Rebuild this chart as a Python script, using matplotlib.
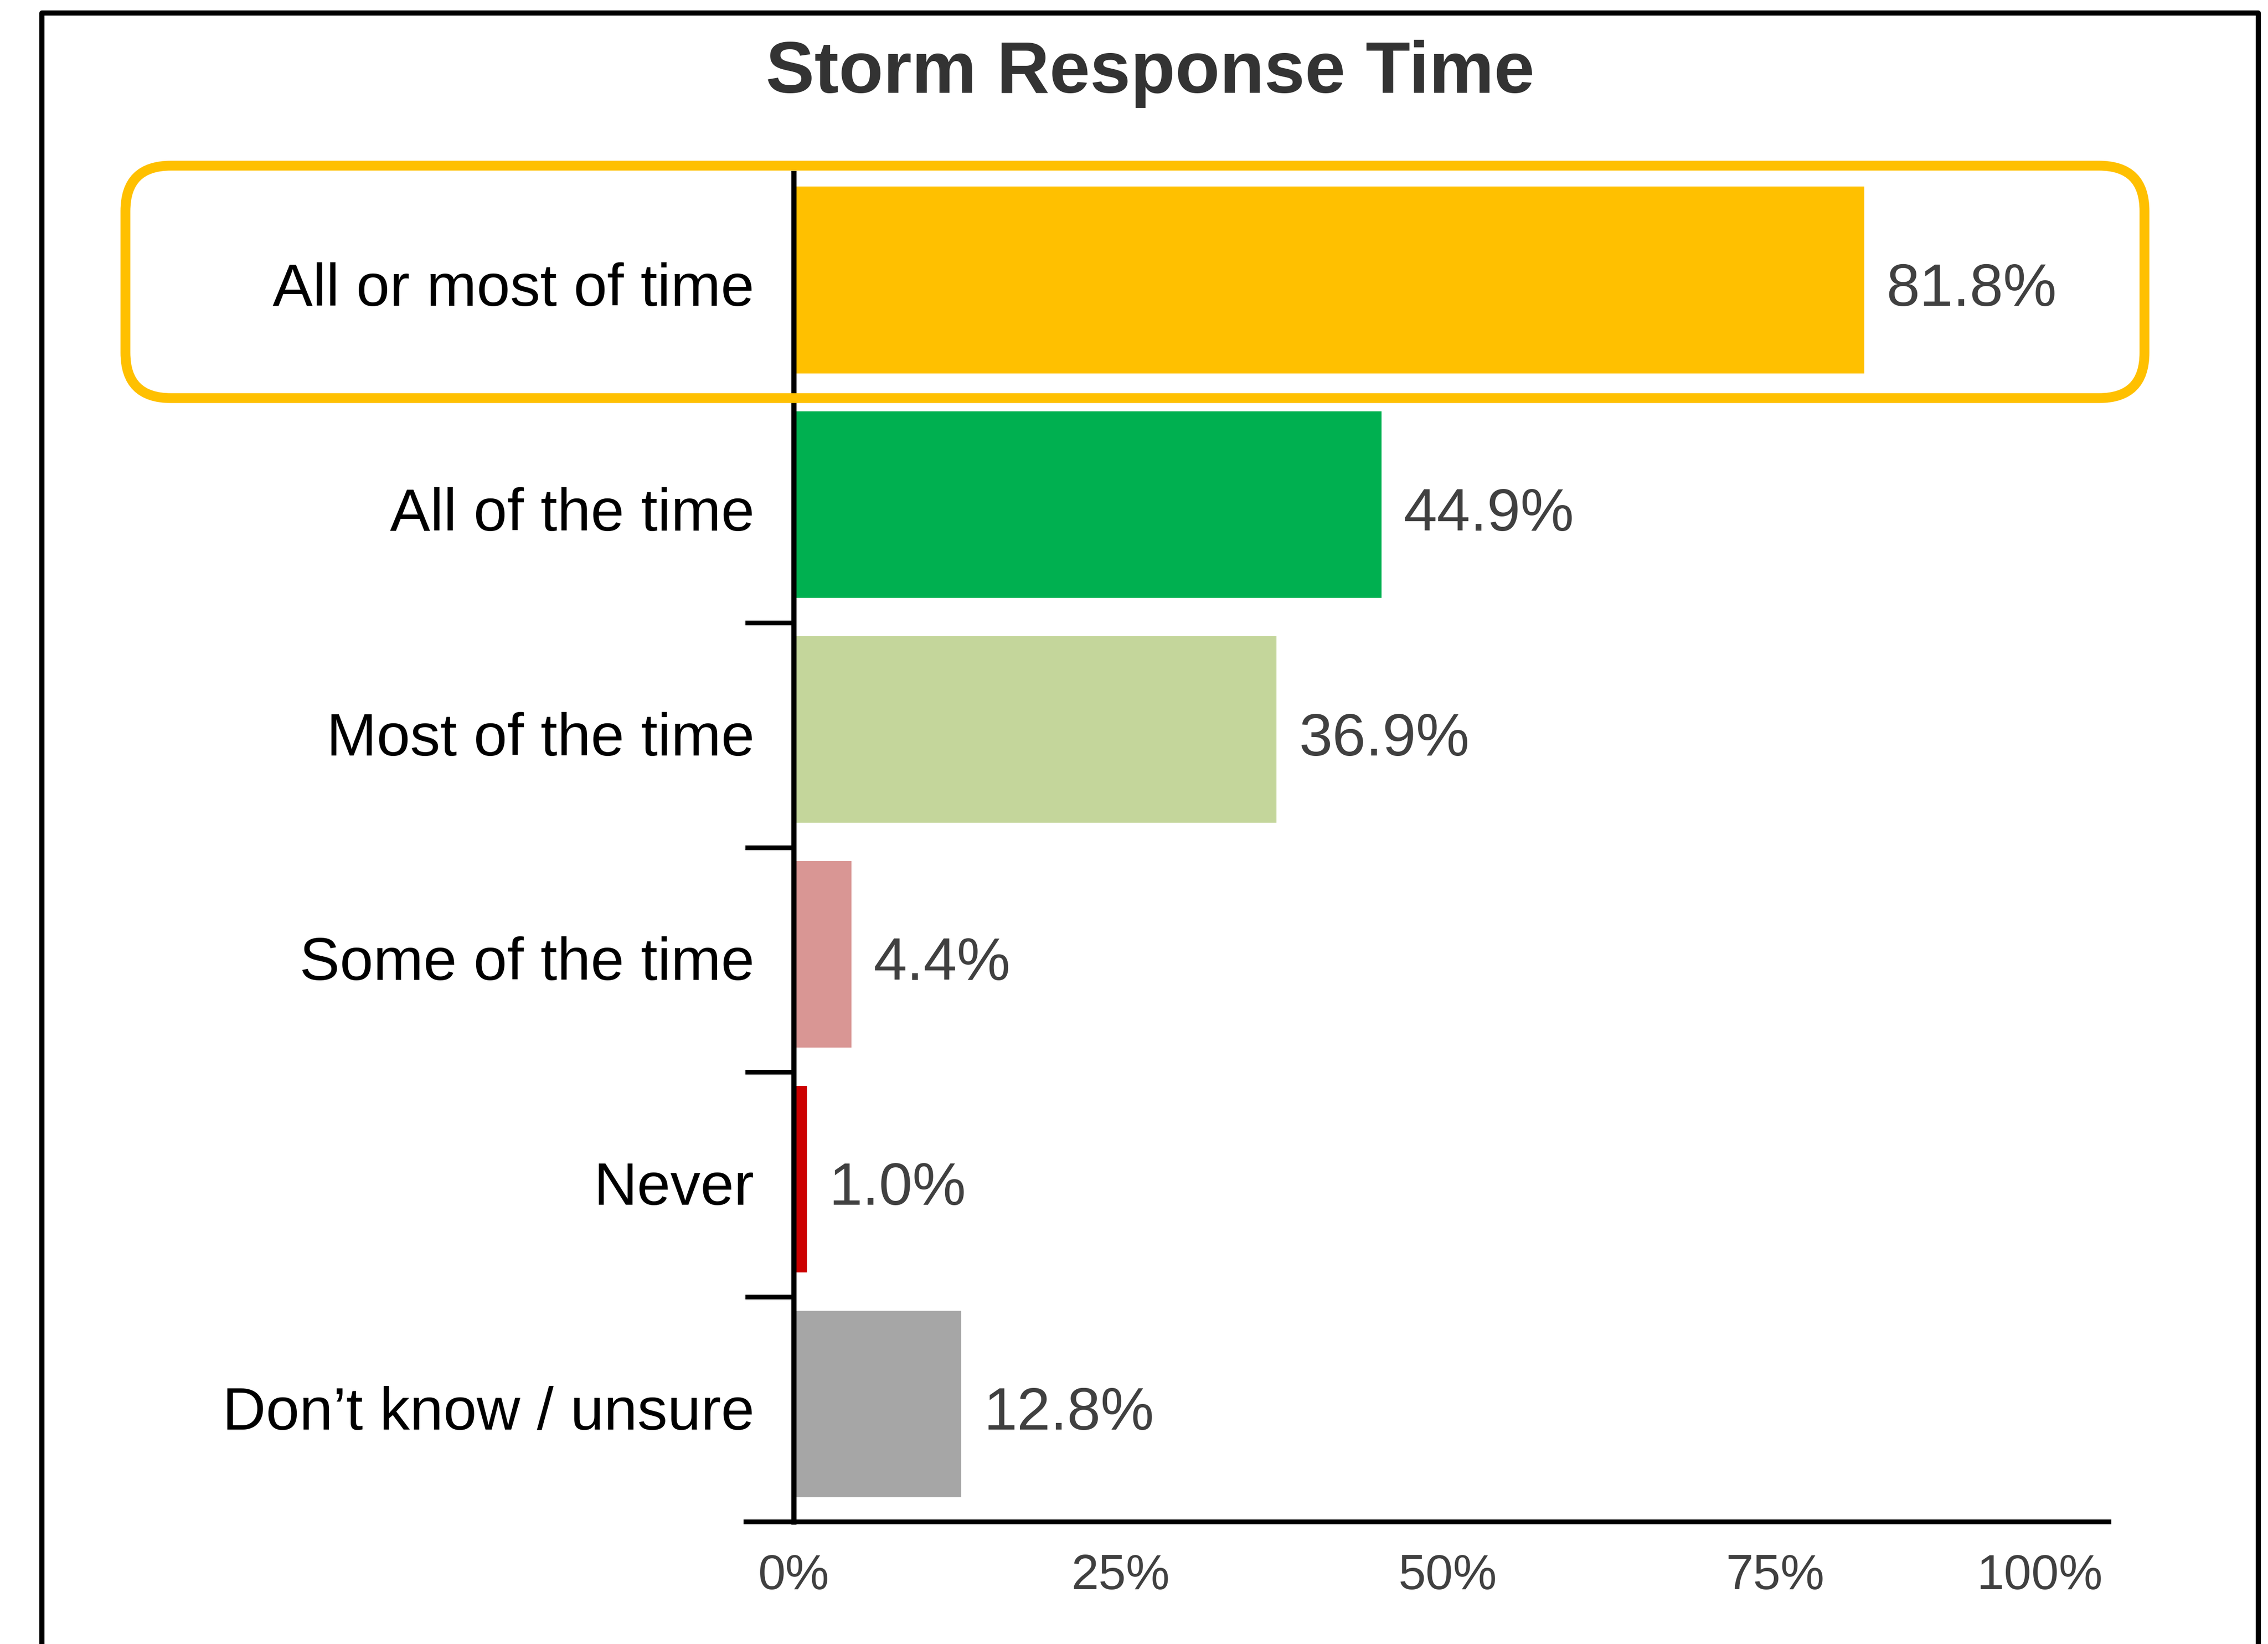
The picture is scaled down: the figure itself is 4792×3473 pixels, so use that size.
import matplotlib
matplotlib.use("Agg")
import matplotlib.pyplot as plt
from matplotlib.patches import FancyBboxPatch
from matplotlib.lines import Line2D

plt.rcParams["font.family"] = ["Liberation Sans", "DejaVu Sans"]

# Survey answers, top to bottom
categories = ["All or most of time", "All of the time", "Most of the time",
              "Some of the time", "Never", "Don\u2019t know / unsure"]
values = [81.8, 44.9, 36.9, 4.4, 1.0, 12.8]
bar_colors = ["#FFC000", "#00B050", "#C4D69B", "#D99694", "#CC0000", "#A6A6A6"]
xticks = [0, 25, 50, 75, 100]
xtick_labels = ["0%", "25%", "50%", "75%", "100%"]

W, H, DPI = 4792, 3473, 300
fig = plt.figure(figsize=(W / DPI, H / DPI), dpi=DPI)
fig.patch.set_facecolor("white")

ax = fig.add_axes([1576 / W, 1 - 3215 / H, 2880 / W, 2849 / H])
ypos = list(range(len(categories)))
# bars sit slightly above the row centre, text slightly below
bar_y = [p - 0.025 for p in ypos]
text_y = [p + 0.02 for p in ypos]
ax.barh(bar_y, values, height=0.83, color=bar_colors, zorder=2)

ax.set_xlim(-3.65, 100.5)
ax.set_ylim(len(categories) - 0.5, -0.5)

for s in ["top", "right"]:
    ax.spines[s].set_visible(False)
ax.spines["bottom"].set_linewidth(2.4)
ax.spines["left"].set_position(("data", 0))
ax.spines["left"].set_linewidth(2.6)
ax.spines["left"].set_zorder(3)

# separators between categories on the y axis
ax.set_yticks([i + 0.5 for i in ypos[:-1]])
ax.set_yticklabels([])
ax.tick_params(axis="y", length=24.5, width=2.4, direction="out")

ax.set_xticks(xticks)
ax.set_xticklabels(xtick_labels, fontsize=25, color="#404040")
ax.tick_params(axis="x", length=0, pad=16)
ax.get_xticklabels()[-1].set_horizontalalignment("right")

for y, label, v in zip(text_y, categories, values):
    ax.text(-3.0, y, label, ha="right", va="center", fontsize=30.5,
            color="black", clip_on=False)
    ax.text(v + 1.7, y, f"{v:.1f}%", ha="left", va="center",
            fontsize=30.5, color="#404040")

fig.text(2430 / W, 1 - 156 / H, "Storm Response Time", ha="center",
         va="center", fontsize=37, fontweight="bold", color="#333333")

# highlight around the combined answer
box = FancyBboxPatch((265 / DPI, (H - 841) / DPI), (4531 - 265) / DPI,
                     (841 - 350) / DPI,
                     boxstyle="round,pad=0,rounding_size=0.32",
                     transform=fig.dpi_scale_trans, fill=False,
                     edgecolor="#FFC000", linewidth=5, zorder=5)
fig.add_artist(box)

# outer frame (left, top, right)
frame = Line2D([88 / W, 88 / W, 4771 / W, 4771 / W],
               [0, 1 - 27 / H, 1 - 27 / H, 0],
               transform=fig.transFigure, color="black", linewidth=2.6)
fig.add_artist(frame)

fig.savefig("out.png", dpi=DPI)
plt.close(fig)
